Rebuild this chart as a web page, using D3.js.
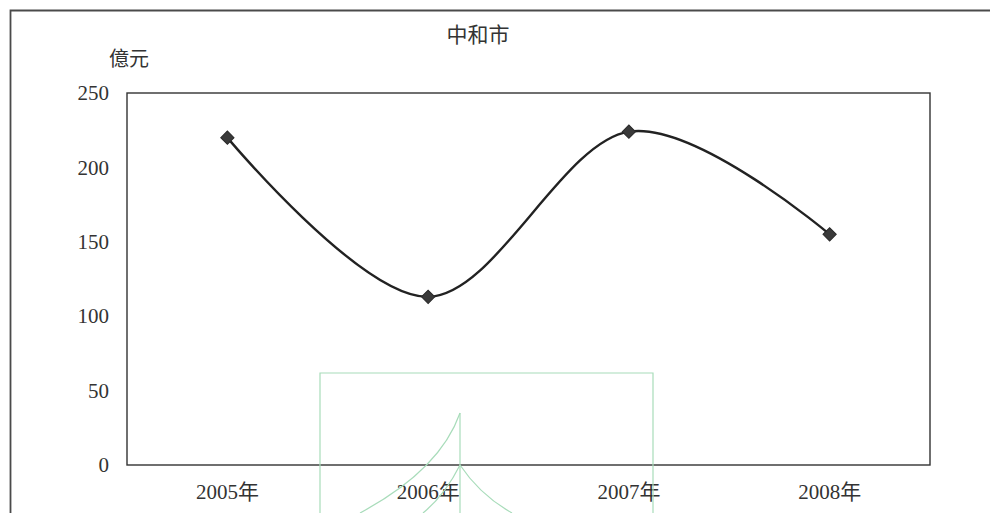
<!DOCTYPE html>
<html>
<head>
<meta charset="utf-8">
<script src="https://cdn.jsdelivr.net/npm/d3@7"></script>
<style>
  html, body { margin: 0; padding: 0; background: #ffffff; }
  svg { display: block; }
  text { font-family: "Liberation Serif", "Noto Sans CJK TC", serif; fill: #333; }
</style>
</head>
<body>
<svg id="chart" width="990" height="513"></svg>
<script>
// 中和市 yearly figures (億元)
const years = ["2005年", "2006年", "2007年", "2008年"];
const values = [220, 113, 224, 155];
const yTicks = [0, 50, 100, 150, 200, 250];
const title = "中和市";
const unit = "億元";

const svg = d3.select("#chart");
const W = 990, H = 513;
const plot = { left: 127, right: 930, top: 93, bottom: 465 };

// page frame (top and left edges)
svg.append("path")
  .attr("d", `M10.5,${H} L10.5,10.5 L${W},10.5`)
  .attr("fill", "none").attr("stroke", "#4a4a4a").attr("stroke-width", 1.8);

const x = d3.scaleBand().domain(years).range([plot.left, plot.right]);
const y = d3.scaleLinear().domain([0, 250]).range([plot.bottom, plot.top]);

// plot area border
svg.append("rect")
  .attr("x", plot.left).attr("y", plot.top)
  .attr("width", plot.right - plot.left).attr("height", plot.bottom - plot.top)
  .attr("fill", "none").attr("stroke", "#333").attr("stroke-width", 1.4);

// y axis labels
const yAxis = d3.axisLeft(y).tickValues(yTicks).tickSize(0).tickPadding(18);
const gy = svg.append("g").attr("transform", `translate(${plot.left},0)`).call(yAxis);
gy.select(".domain").remove();
gy.selectAll("text").attr("font-size", 21).attr("fill", "#333")
  .attr("font-family", "Liberation Serif, serif");

// x axis labels
const xAxis = d3.axisBottom(x).tickSize(0).tickPadding(19);
const gx = svg.append("g").attr("transform", `translate(0,${plot.bottom})`).call(xAxis);
gx.select(".domain").remove();
gx.selectAll("text").attr("font-size", 21).attr("fill", "#333")
  .attr("font-family", "Liberation Serif, Noto Sans CJK TC, serif");

// title and unit
svg.append("text").attr("x", 478).attr("y", 42).attr("text-anchor", "middle")
  .attr("font-size", 21).text(title);
svg.append("text").attr("x", 129).attr("y", 66).attr("text-anchor", "middle")
  .attr("font-size", 20).text(unit);

// smoothed line
const pts = years.map((c, i) => [x(c) + x.bandwidth() / 2, y(values[i])]);
svg.append("path")
  .attr("d", d3.line().curve(d3.curveCardinal.tension(0))(pts))
  .attr("fill", "none").attr("stroke", "#222").attr("stroke-width", 2.4);

// diamond markers
svg.selectAll(".marker").data(pts).join("path")
  .attr("class", "marker")
  .attr("d", d3.symbol(d3.symbolSquare, 88)())
  .attr("transform", d => `translate(${d[0]},${d[1]}) rotate(45)`)
  .attr("fill", "#3a3a3a").attr("stroke", "#2a2a2a").attr("stroke-width", 1);

// light green stamp outline at the bottom
const stamp = svg.append("g").attr("fill", "none").attr("stroke", "#a8dcba").attr("stroke-width", 1.2);
stamp.append("path").attr("d", `M320,${H} L320,373 L653,373 L653,${H}`);
stamp.append("path").attr("d", `M460,413 L460,${H}`);
stamp.append("path").attr("d", `M460,413 Q440,470 360,${H}`);
stamp.append("path").attr("d", `M460,465 Q445,495 423,${H}`);
stamp.append("path").attr("d", `M460,465 Q480,495 512,${H}`);
</script>
</body>
</html>
